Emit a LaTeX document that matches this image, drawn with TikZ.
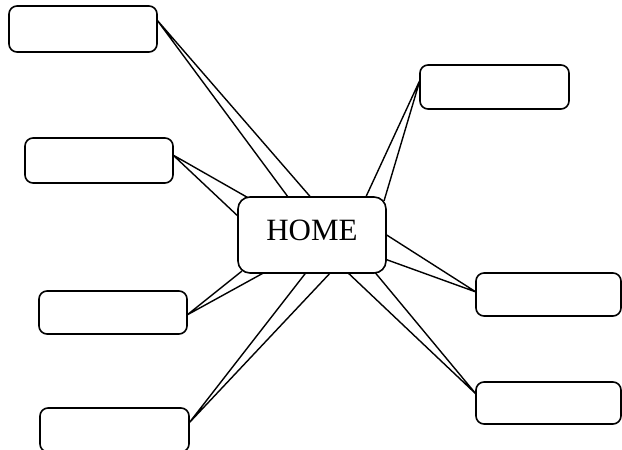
\documentclass[tikz,border=0pt]{standalone}
\usepackage{fontspec}
\setmainfont{Liberation Serif}
\begin{document}
\begin{tikzpicture}[x=1pt,y=-1pt,
  box/.style={draw=black, line width=1.6pt, fill=white, rounded corners=8pt,
              inner sep=0pt, minimum width=148pt, minimum height=44pt},
  hub/.style={draw=black, line width=1.6pt, fill=white, rounded corners=12pt,
              inner sep=0pt, minimum width=148pt, minimum height=76pt},
  wedge/.style={draw=black, line width=1.4pt, line join=miter}]
\useasboundingbox (0,0) rectangle (622,450);
\clip (0,0) rectangle (622,450);

% apex points on the outer boxes
\coordinate (a1) at (157,20);
\coordinate (a2) at (173,155);
\coordinate (a3) at (420,80);
\coordinate (a4) at (187,315);
\coordinate (a5) at (189,423);
\coordinate (a6) at (476,292);
\coordinate (a7) at (476,394);

% wedge base points, just inside the central box
\coordinate (p1a) at (291,201);  \coordinate (p1b) at (314,201);
\coordinate (p2a) at (241,219);  \coordinate (p2b) at (252,200);
\coordinate (p3a) at (364,201);  \coordinate (p3b) at (384,201);
\coordinate (p4a) at (242,271);  \coordinate (p4b) at (267,271);
\coordinate (p5a) at (308,270);  \coordinate (p5b) at (333,270);
\coordinate (p6a) at (382,232);  \coordinate (p6b) at (382,258);
\coordinate (p7a) at (345,270);  \coordinate (p7b) at (373,270);

% wedges from the central box to each outer box
\draw[wedge] (p1a) -- (a1) -- (p1b);
\draw[wedge] (p2a) -- (a2) -- (p2b);
\draw[wedge] (p3a) -- (a3) -- (p3b);
\draw[wedge] (p4a) -- (a4) -- (p4b);
\draw[wedge] (p5a) -- (a5) -- (p5b);
\draw[wedge] (p6a) -- (a6) -- (p6b);
\draw[wedge] (p7a) -- (a7) -- (p7b);

% central box
\node[hub] (home) at (312,235) {};
\node[anchor=base, font=\fontsize{31}{36}\selectfont] (hometext) at (312,240) {HOME};

% outer boxes
\node[box, minimum height=46pt] (b1) at (83,29) {};
\node[box, minimum height=45pt] (b2) at (99,160.5) {};
\node[box, minimum width=149pt] (b3) at (494.5,87) {};
\node[box, minimum height=43pt] (b4) at (113,312.5) {};
\node[box, minimum width=149pt] (b5) at (114.5,430) {};
\node[box, minimum width=145pt, minimum height=43pt] (b6) at (548.5,294.5) {};
\node[box, minimum width=145pt, minimum height=42pt] (b7) at (548.5,403) {};
\end{tikzpicture}
\end{document}
